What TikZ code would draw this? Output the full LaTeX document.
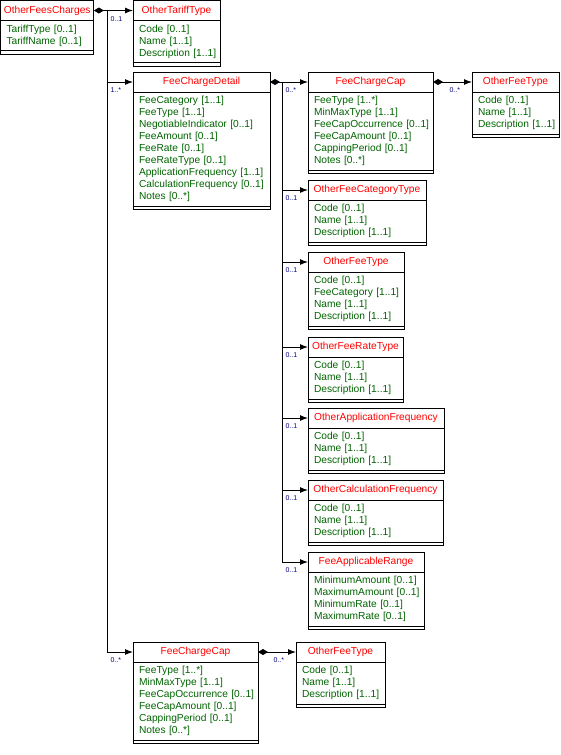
\documentclass[tikz,border=0pt]{standalone}
\usepackage{fontspec}
\setmainfont{Liberation Sans}
\usetikzlibrary{arrows.meta}
\definecolor{clsred}{RGB}{255,0,0}
\definecolor{attgreen}{RGB}{0,100,0}
\definecolor{multblue}{RGB}{0,0,128}
\begin{document}
\begin{tikzpicture}[x=1pt,y=-1pt,line width=1pt,
  hdr/.style={draw,anchor=north west,outer sep=0pt,minimum height=20pt,text=clsred,
    font=\fontsize{10.2pt}{12pt}\selectfont,text height=7.3pt,text depth=2.1pt},
  att/.style={draw,anchor=north west,outer sep=0pt,align=left,inner xsep=6pt,inner ysep=4.3pt,
    text=attgreen,font=\fontsize{10.2pt}{12pt}\selectfont},
  mult/.style={anchor=north west,inner sep=0pt,text=multblue,font=\fontsize{7pt}{8pt}\selectfont,
    pos=1,xshift=-23pt,yshift=-5.5pt},
  owns/.style={{Diamond[length=10pt,width=6pt]}-{Latex[length=8pt,width=6pt]}},
  link/.style={-{Latex[length=8pt,width=6pt]}}]
\useasboundingbox (0,0) rectangle (560,755);
% OtherFeesCharges
\node[hdr,minimum width=92.5pt] (ofc) at (0.5,0.5) {OtherFeesCharges};
\node[att,text width=80.5pt] (ofc-a) at (ofc.south west) {TariffType~[0..1]\\TariffName~[0..1]};
\draw (ofc-a.south west) rectangle ([yshift=-3.5pt]ofc-a.south east);
% OtherTariffType
\node[hdr,minimum width=87pt] (ott) at (133,0.5) {OtherTariffType};
\node[att,text width=75pt] (ott-a) at (ott.south west) {Code~[0..1]\\Name~[1..1]\\Description~[1..1]};
\draw (ott-a.south west) rectangle ([yshift=-3.5pt]ott-a.south east);
% FeeChargeDetail
\node[hdr,minimum width=137pt] (fcd) at (133,72) {FeeChargeDetail};
\node[att,text width=125pt] (fcd-a) at (fcd.south west) {FeeCategory~[1..1]\\FeeType~[1..1]\\NegotiableIndicator~[0..1]\\FeeAmount~[0..1]\\FeeRate~[0..1]\\FeeRateType~[0..1]\\ApplicationFrequency~[1..1]\\CalculationFrequency~[0..1]\\Notes~[0..*]};
\draw (fcd-a.south west) rectangle ([yshift=-3.5pt]fcd-a.south east);
% FeeChargeCap
\node[hdr,minimum width=125pt] (fcc) at (308,72) {FeeChargeCap};
\node[att,text width=113pt] (fcc-a) at (fcc.south west) {FeeType~[1..*]\\MinMaxType~[1..1]\\FeeCapOccurrence~[0..1]\\FeeCapAmount~[0..1]\\CappingPeriod~[0..1]\\Notes~[0..*]};
\draw (fcc-a.south west) rectangle ([yshift=-3.5pt]fcc-a.south east);
% OtherFeeType
\node[hdr,minimum width=87pt] (oft1) at (472,72) {OtherFeeType};
\node[att,text width=75pt] (oft1-a) at (oft1.south west) {Code~[0..1]\\Name~[1..1]\\Description~[1..1]};
\draw (oft1-a.south west) rectangle ([yshift=-3.5pt]oft1-a.south east);
% OtherFeeCategoryType
\node[hdr,minimum width=118pt] (ofct) at (308,180) {OtherFeeCategoryType};
\node[att,text width=106pt] (ofct-a) at (ofct.south west) {Code~[0..1]\\Name~[1..1]\\Description~[1..1]};
\draw (ofct-a.south west) rectangle ([yshift=-3.5pt]ofct-a.south east);
% OtherFeeType
\node[hdr,minimum width=96pt] (oft2) at (308,252) {OtherFeeType};
\node[att,text width=84pt] (oft2-a) at (oft2.south west) {Code~[0..1]\\FeeCategory~[1..1]\\Name~[1..1]\\Description~[1..1]};
\draw (oft2-a.south west) rectangle ([yshift=-3.5pt]oft2-a.south east);
% OtherFeeRateType
\node[hdr,minimum width=95pt] (ofrt) at (308,337) {OtherFeeRateType};
\node[att,text width=83pt] (ofrt-a) at (ofrt.south west) {Code~[0..1]\\Name~[1..1]\\Description~[1..1]};
\draw (ofrt-a.south west) rectangle ([yshift=-3.5pt]ofrt-a.south east);
% OtherApplicationFrequency
\node[hdr,minimum width=136pt] (oaf) at (308,408) {OtherApplicationFrequency};
\node[att,text width=124pt] (oaf-a) at (oaf.south west) {Code~[0..1]\\Name~[1..1]\\Description~[1..1]};
\draw (oaf-a.south west) rectangle ([yshift=-3.5pt]oaf-a.south east);
% OtherCalculationFrequency
\node[hdr,minimum width=135pt] (ocf) at (308,480) {OtherCalculationFrequency};
\node[att,text width=123pt] (ocf-a) at (ocf.south west) {Code~[0..1]\\Name~[1..1]\\Description~[1..1]};
\draw (ocf-a.south west) rectangle ([yshift=-3.5pt]ocf-a.south east);
% FeeApplicableRange
\node[hdr,minimum width=116pt] (far) at (308,552) {FeeApplicableRange};
\node[att,text width=104pt] (far-a) at (far.south west) {MinimumAmount~[0..1]\\MaximumAmount~[0..1]\\MinimumRate~[0..1]\\MaximumRate~[0..1]};
\draw (far-a.south west) rectangle ([yshift=-3.5pt]far-a.south east);
% FeeChargeCap
\node[hdr,minimum width=125pt] (fcc2) at (133,642) {FeeChargeCap};
\node[att,text width=113pt] (fcc2-a) at (fcc2.south west) {FeeType~[1..*]\\MinMaxType~[1..1]\\FeeCapOccurrence~[0..1]\\FeeCapAmount~[0..1]\\CappingPeriod~[0..1]\\Notes~[0..*]};
\draw (fcc2-a.south west) rectangle ([yshift=-3.5pt]fcc2-a.south east);
% OtherFeeType
\node[hdr,minimum width=89pt] (oft3) at (296,642) {OtherFeeType};
\node[att,text width=77pt] (oft3-a) at (oft3.south west) {Code~[0..1]\\Name~[1..1]\\Description~[1..1]};
\draw (oft3-a.south west) rectangle ([yshift=-3.5pt]oft3-a.south east);
% connectors
\coordinate (bus) at ([xshift=14pt]ofc.east);
\coordinate (hub) at ([xshift=12pt]fcd.east);
\draw[owns] (ofc.east) -- node[mult]{0..1} (ott.west);
\draw[link] (bus) |- node[mult]{1..*} (fcd.west);
\draw[link] (bus) |- node[mult]{0..*} (fcc2.west);
\draw[owns] (fcd.east) -- node[mult]{0..*} (fcc.west);
\draw[link] (hub) |- node[mult]{0..1} (ofct.west);
\draw[link] (hub) |- node[mult]{0..1} (oft2.west);
\draw[link] (hub) |- node[mult]{0..1} (ofrt.west);
\draw[link] (hub) |- node[mult]{0..1} (oaf.west);
\draw[link] (hub) |- node[mult]{0..1} (ocf.west);
\draw[link] (hub) |- node[mult]{0..1} (far.west);
\draw[owns] (fcc.east) -- node[mult]{0..*} (oft1.west);
\draw[owns] (fcc2.east) -- node[mult]{0..*} (oft3.west);
\end{tikzpicture}
\end{document}
